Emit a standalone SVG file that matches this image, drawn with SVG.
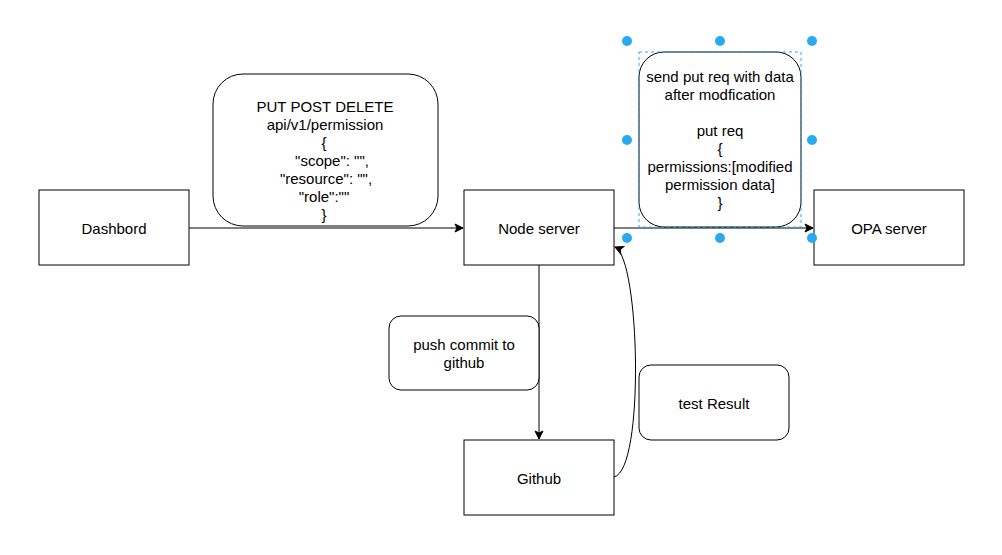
<svg xmlns="http://www.w3.org/2000/svg" width="1002" height="555" viewBox="0 0 1002 555">
<defs>
<style>
.n{fill:#fff;stroke:#000;stroke-width:1}
.t{font-family:"Liberation Sans",Arial,sans-serif;font-size:15px;fill:#000;text-anchor:middle;dominant-baseline:central}
.c{fill:none;stroke:#000;stroke-width:1}
.h{fill:#29a9f0}
</style>
<marker id="a" markerWidth="10" markerHeight="10" refX="9" refY="5" orient="auto" markerUnits="userSpaceOnUse">
<path d="M1,1 L9,5 L1,9 L3,5 Z" fill="#000" stroke="#000"/>
</marker>
</defs>
<rect width="1002" height="555" fill="#fff"/>
<g id="connectors">
<path class="c" d="M189,228 L463,228" marker-end="url(#a)"/>
<path class="c" d="M614,228 L813,228" marker-end="url(#a)"/>
<path class="c" d="M539,265 L539,439" marker-end="url(#a)"/>
<path class="c" d="M614,477 C645,470 640,258 615,247" marker-end="url(#a)"/>
</g>
<g id="dashbord"><rect class="n" x="39" y="190" width="150" height="75"/><text class="t" x="114" y="228">Dashbord</text></g>
<g id="node-server"><rect class="n" x="464" y="190" width="150" height="75"/><text class="t" x="539" y="228">Node server</text></g>
<g id="opa-server"><rect class="n" x="814" y="190" width="150" height="75"/><text class="t" x="889" y="228">OPA server</text></g>
<g id="github"><rect class="n" x="464" y="440" width="150" height="75"/><text class="t" x="539" y="478">Github</text></g>
<g id="req-box"><rect class="n" x="213" y="74" width="225" height="152" rx="30"/>
<text class="t" x="325" y="106">PUT POST DELETE</text>
<text class="t" x="325" y="124">api/v1/permission</text>
<text class="t" x="324" y="142">{</text>
<text class="t" x="332" y="160">"scope": "",</text>
<text class="t" x="326" y="178">"resource": "",</text>
<text class="t" x="324" y="196">"role":""</text>
<text class="t" x="324" y="214">}</text>
</g>
<g id="put-box"><rect class="n" x="639" y="52" width="162" height="175" rx="25"/>
<rect x="639" y="52" width="162" height="175" fill="none" stroke="#29a9f0" stroke-dasharray="3 3"/>
<text class="t" x="720" y="76">send put req with data</text>
<text class="t" x="720" y="94">after modfication</text>
<text class="t" x="720" y="130">put req</text>
<text class="t" x="720" y="148">{</text>
<text class="t" x="720" y="166">permissions:[modified</text>
<text class="t" x="720" y="184">permission data]</text>
<text class="t" x="720" y="202">}</text>
<circle class="h" cx="627" cy="41" r="5"/><circle class="h" cx="720" cy="41" r="5"/><circle class="h" cx="812" cy="41" r="5"/>
<circle class="h" cx="627" cy="140" r="5"/><circle class="h" cx="812" cy="140" r="5"/>
<circle class="h" cx="627" cy="238" r="5"/><circle class="h" cx="720" cy="238" r="5"/><circle class="h" cx="812" cy="238" r="5"/>
</g>
<g id="push-commit"><rect class="n" x="389" y="316" width="150" height="74" rx="12"/>
<text class="t" x="464" y="344">push commit to</text><text class="t" x="464" y="362">github</text></g>
<g id="test-result"><rect class="n" x="639" y="365" width="150" height="75" rx="12"/><text class="t" x="714" y="403">test Result</text></g>
</svg>
